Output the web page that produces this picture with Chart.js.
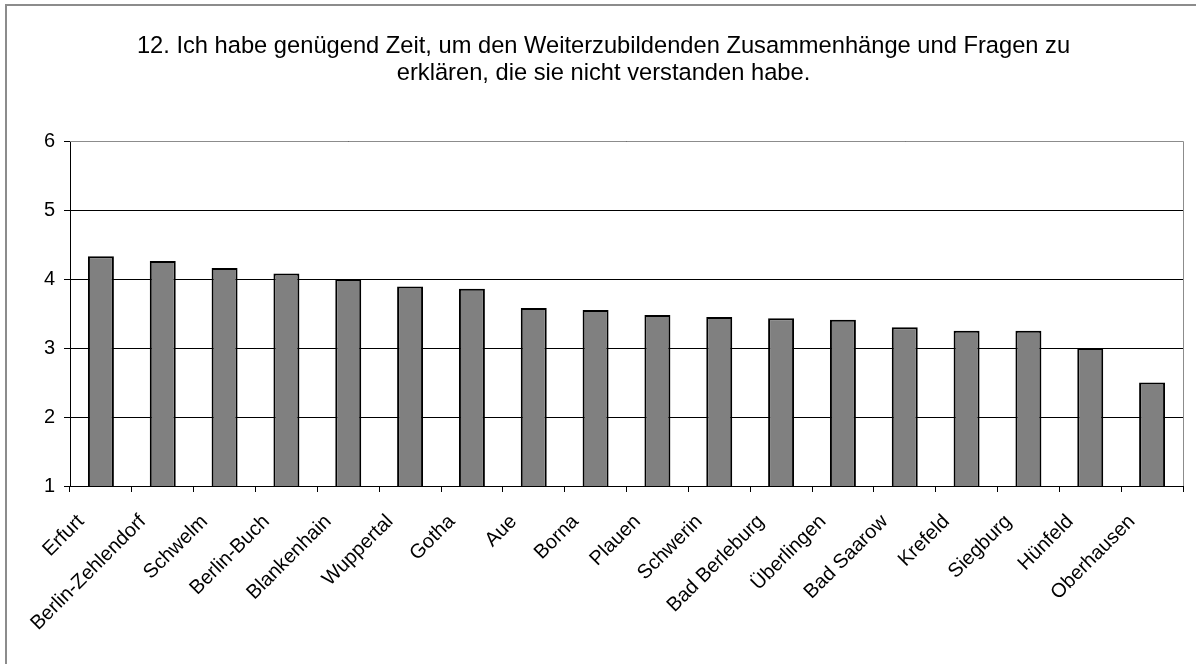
<!DOCTYPE html>
<html>
<head>
<meta charset="utf-8">
<script src="https://cdn.jsdelivr.net/npm/chart.js@4"></script>
<style>
  html, body { margin: 0; padding: 0; background: #fff; }
  #wrap { width: 1196px; height: 664px; }
</style>
</head>
<body>
<div id="wrap"><canvas id="graph" width="1196" height="664"></canvas></div>
<script>
// Data
const titleLines = [
    '12. Ich habe genügend Zeit, um den Weiterzubildenden Zusammenhänge und Fragen zu',
    'erklären, die sie nicht verstanden habe.'
];
const categories = ['Erfurt', 'Berlin-Zehlendorf', 'Schwelm', 'Berlin-Buch', 'Blankenhain',
    'Wuppertal', 'Gotha', 'Aue', 'Borna', 'Plauen', 'Schwerin', 'Bad Berleburg',
    'Überlingen', 'Bad Saarow', 'Krefeld', 'Siegburg', 'Hünfeld', 'Oberhausen'];
const values = [4.33, 4.26, 4.16, 4.08, 4.0, 3.89, 3.86, 3.58, 3.55, 3.48, 3.45, 3.43,
    3.41, 3.30, 3.25, 3.25, 3.0, 2.50];
const yMin = 1;
const yMax = 6;
const yStep = 1;

const fontFamily = 'Liberation Sans, Arial, sans-serif';

// outer frame + plot area border
const frame = {
    id: 'frame',
    beforeDraw(chart) {
        const c = chart.ctx;
        c.save();
        c.strokeStyle = '#8c8c8c';
        c.lineWidth = 2;
        c.strokeRect(6, 5, 1200, 680);
        c.restore();
    },
    afterDatasetsDraw(chart) {
        const a = chart.chartArea;
        const c = chart.ctx;
        c.save();
        c.strokeStyle = '#8c8c8c';
        c.lineWidth = 1;
        c.beginPath();
        c.moveTo(a.left, Math.round(a.top) + 0.5);
        c.lineTo(Math.round(a.right) + 0.5, Math.round(a.top) + 0.5);
        c.lineTo(Math.round(a.right) + 0.5, a.bottom);
        c.stroke();
        c.restore();
    }
};

const ctx = document.getElementById('graph').getContext('2d');
new Chart(ctx, {
    type: 'bar',
    data: {
        labels: categories,
        datasets: [{
            data: values,
            backgroundColor: '#808080',
            borderColor: '#000000',
            borderWidth: 2,
            barPercentage: 0.42,
            categoryPercentage: 1.0
        }]
    },
    options: {
        responsive: false,
        animation: false,
        layout: { padding: { top: 0, right: 13, left: 24, bottom: 0 } },
        plugins: {
            legend: { display: false },
            tooltip: { enabled: false },
            title: {
                display: true,
                text: titleLines,
                color: '#000',
                font: { family: fontFamily, size: 23.7, weight: 'normal', lineHeight: 1.14 },
                padding: { top: 33, bottom: 54 }
            }
        },
        scales: {
            y: {
                min: yMin,
                max: yMax,
                ticks: {
                    stepSize: yStep,
                    color: '#000',
                    padding: 9,
                    font: { family: fontFamily, size: 20 }
                },
                grid: {
                    color: '#000',
                    lineWidth: 1,
                    tickLength: 6
                },
                border: { color: '#000', width: 1 },
                afterFit(scale) { scale.width = 46; }
            },
            x: {
                ticks: {
                    color: '#000',
                    maxRotation: 45,
                    minRotation: 45,
                    autoSkip: false,
                    padding: 18,
                    labelOffset: -20,
                    font: { family: fontFamily, size: 20 }
                },
                grid: {
                    offset: true,
                    drawOnChartArea: false,
                    color: '#000',
                    tickLength: 6
                },
                border: { color: '#000', width: 1 },
                afterFit(scale) { scale.height = 178; }
            }
        }
    },
    plugins: [frame]
});
</script>
</body>
</html>
